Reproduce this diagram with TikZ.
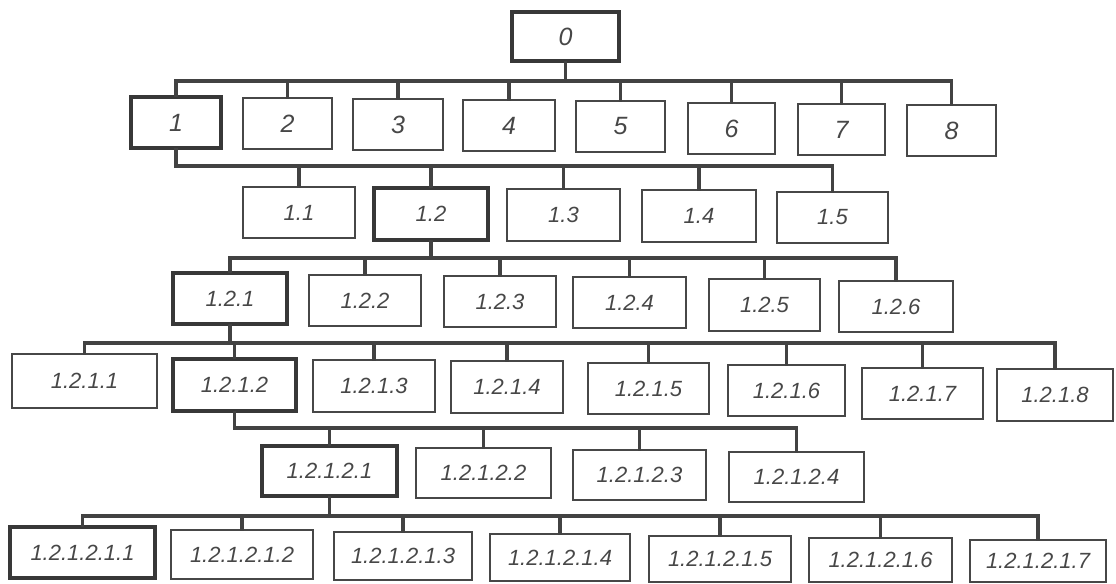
\documentclass[tikz,border=0pt]{standalone}
\usepackage{fontspec}
\setmainfont{Liberation Sans}
\newcommand\bx[7]{%
  \pgfmathsetmacro\bxcx{(#3+#5)/2}%
  \pgfmathsetmacro\bxcy{(#4+#6)/2}%
  \pgfmathsetmacro\bxw{(#5-#3)*0.5}%
  \pgfmathsetmacro\bxh{(#6-#4)*0.5}%
  \node[#1, minimum width=\bxw pt, minimum height=\bxh pt] (#2) at (\bxcx,\bxcy) {#7};}
\begin{document}
\begin{tikzpicture}[x=0.5pt,y=-0.5pt,
  base/.style={inner sep=0pt, draw=black!72, text=black!72,
    font=\fontsize{11}{13}\selectfont\itshape},
  tbox/.style={base, line width=0.8pt},
  kbox/.style={base, line width=2pt, draw=black!78},
  big/.style={font=\fontsize{12.5}{14}\selectfont\itshape},
  conn/.style={draw=black!74, line width=1.6pt, line cap=rect}]
\useasboundingbox (0,0) rectangle (1116,584);
% row 0
\bx{kbox,big}{n0}{512}{12}{619}{61}{0}
% row 1
\bx{kbox,big}{n1}{131}{97}{221}{148}{1}
\bx{tbox,big}{n2}{243}{98}{332}{149}{2}
\bx{tbox,big}{n3}{353}{99}{443}{150}{3}
\bx{tbox,big}{n4}{463}{100}{555}{151}{4}
\bx{tbox,big}{n5}{576}{101}{665}{152}{5}
\bx{tbox,big}{n6}{688}{103}{775}{154}{6}
\bx{tbox,big}{n7}{798}{104}{885}{155}{7}
\bx{tbox,big}{n8}{907}{105}{996}{156}{8}
% row 2
\bx{tbox}{n11}{243}{187}{355}{238}{1.1}
\bx{kbox}{n12}{374}{188}{488}{240}{1.2}
\bx{tbox}{n13}{507}{189}{620}{241}{1.3}
\bx{tbox}{n14}{642}{190}{756}{242}{1.4}
\bx{tbox}{n15}{777}{192}{888}{243}{1.5}
% row 3
\bx{kbox}{n121}{173}{273}{287}{324}{1.2.1}
\bx{tbox}{n122}{309}{275}{421}{326}{1.2.2}
\bx{tbox}{n123}{444}{276}{556}{327}{1.2.3}
\bx{tbox}{n124}{573}{277}{686}{328}{1.2.4}
\bx{tbox}{n125}{709}{279}{820}{331}{1.2.5}
\bx{tbox}{n126}{839}{281}{953}{332}{1.2.6}
% row 4
\bx{tbox}{n1211}{12}{354}{157}{408}{1.2.1.1}
\bx{kbox}{n1212}{173}{359}{296}{411}{1.2.1.2}
\bx{tbox}{n1213}{313}{360}{435}{412}{1.2.1.3}
\bx{tbox}{n1214}{451}{361}{563}{413}{1.2.1.4}
\bx{tbox}{n1215}{588}{363}{709}{414}{1.2.1.5}
\bx{tbox}{n1216}{728}{365}{845}{416}{1.2.1.6}
\bx{tbox}{n1217}{862}{368}{983}{419}{1.2.1.7}
\bx{tbox}{n1218}{997}{369}{1113}{421}{1.2.1.8}
% row 5
\bx{kbox}{m1}{262}{446}{397}{496}{1.2.1.2.1}
\bx{tbox}{m2}{416}{448}{551}{498}{1.2.1.2.2}
\bx{tbox}{m3}{573}{450}{706}{500}{1.2.1.2.3}
\bx{tbox}{m4}{729}{452}{864}{502}{1.2.1.2.4}
% row 6
\bx{kbox}{p1}{10}{527}{155}{578}{1.2.1.2.1.1}
\bx{tbox}{p2}{171}{530}{313}{579}{1.2.1.2.1.2}
\bx{tbox}{p3}{334}{532}{472}{580}{1.2.1.2.1.3}
\bx{tbox}{p4}{490}{534}{630}{581}{1.2.1.2.1.4}
\bx{tbox}{p5}{649}{536}{791}{582}{1.2.1.2.1.5}
\bx{tbox}{p6}{809}{538}{952}{582}{1.2.1.2.1.6}
\bx{tbox}{p7}{970}{540}{1106}{582}{1.2.1.2.1.7}
% buses
\coordinate (b1) at (0,81);
\coordinate (b2) at (0,166);
\coordinate (b3) at (0,258);
\coordinate (b4) at (0,343);
\coordinate (b5) at (0,428);
\coordinate (b6) at (0,516);
% level 1
\draw[conn] (n0.south) -- (n0.south |- b1);
\draw[conn] (n1.north |- b1) -- (n8.north |- b1);
\foreach \c in {n1,n2,n3,n4,n5,n6,n7,n8} \draw[conn] (\c.north |- b1) -- (\c.north);
% level 2
\draw[conn] (n1.south) -- (n1.south |- b2) -- (n15.north |- b2);
\foreach \c in {n11,n12,n13,n14,n15} \draw[conn] (\c.north |- b2) -- (\c.north);
% level 3
\draw[conn] (n12.south) -- (n12.south |- b3);
\draw[conn] (n121.north |- b3) -- (n126.north |- b3);
\foreach \c in {n121,n122,n123,n124,n125,n126} \draw[conn] (\c.north |- b3) -- (\c.north);
% level 4
\draw[conn] (n121.south) -- (n121.south |- b4);
\draw[conn] (n1211.north |- b4) -- (n1218.north |- b4);
\foreach \c in {n1211,n1212,n1213,n1214,n1215,n1216,n1217,n1218} \draw[conn] (\c.north |- b4) -- (\c.north);
% level 5
\draw[conn] (n1212.south) -- (n1212.south |- b5) -- (m4.north |- b5);
\foreach \c in {m1,m2,m3,m4} \draw[conn] (\c.north |- b5) -- (\c.north);
% level 6
\draw[conn] (m1.south) -- (m1.south |- b6);
\draw[conn] (p1.north |- b6) -- (p7.north |- b6);
\foreach \c in {p1,p2,p3,p4,p5,p6,p7} \draw[conn] (\c.north |- b6) -- (\c.north);
\end{tikzpicture}
\end{document}
